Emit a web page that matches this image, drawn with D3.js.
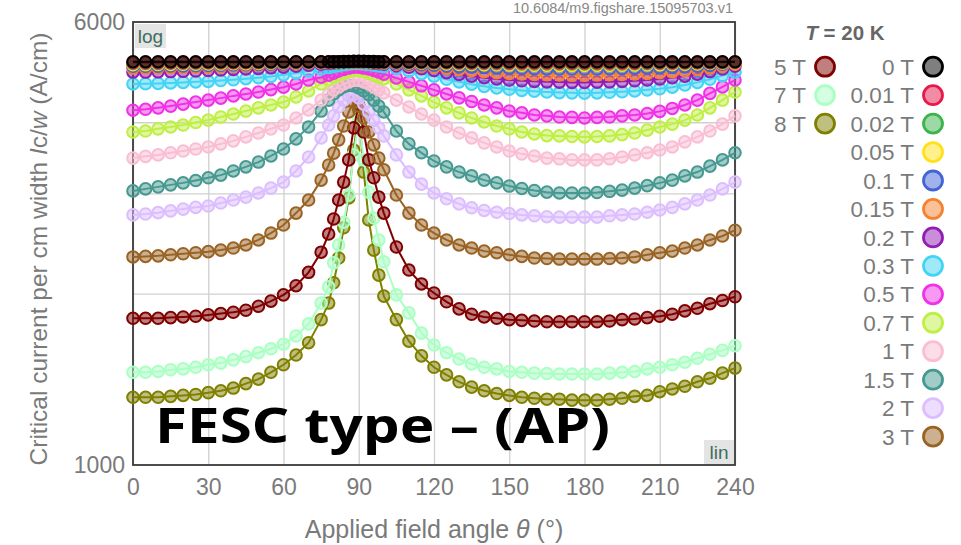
<!DOCTYPE html>
<html>
<head>
<meta charset="utf-8">
<script src="https://cdn.jsdelivr.net/npm/d3@7"></script>
<style>
  html, body { margin: 0; padding: 0; background: #fff; }
  svg { display: block; }
</style>
</head>
<body>
<svg id="chart" width="961" height="545"></svg>
<script>
// Field angle (degrees) at which Ic was measured
const angles = [0,5,10,15,20,25,30,35,40,45,50,55,60,65,70,75,
  78,80,82,84,86,88,90,92,94,96,98,100,
  105,110,115,120,125,130,135,140,145,150,155,160,165,170,175,180,185,190,195,200,205,210,215,220,225,230,235,240];

// Critical current per cm width (A/cm), one array per applied field
const ic_0T = [5110,5110,5110,5110,5110,5110,5110,5110,5110,5110,5110,5110,5110,5110,5110,5110,
  5110,5110,5110,5112,5115,5120,5120,5120,5115,5112,5110,5110,
  5110,5110,5110,5110,5110,5110,5110,5110,5110,5110,5110,5110,5110,5110,5110,5110,5110,5110,5110,5110,5110,5110,5110,5110,5110,5110,5110,5110];
const ic_001T = [5090,5090,5090,5091,5092,5093,5094,5095,5096,5097,5098,5099,5100,5101,5102,5104,
  5105,5106,5108,5110,5112,5112,5112,5110,5108,5106,5105,5104,
  5102,5100,5098,5096,5094,5092,5090,5088,5087,5086,5085,5084,5083,5083,5083,5083,5083,5084,5085,5086,5087,5088,5090,5092,5094,5096,5098,5100];
const ic_002T = [5075,5075,5076,5078,5080,5081,5082,5084,5085,5087,5089,5090,5092,5094,5096,5098,
  5100,5102,5104,5106,5108,5108,5108,5106,5104,5102,5100,5098,
  5096,5092,5088,5085,5082,5078,5075,5072,5070,5068,5066,5065,5064,5064,5064,5064,5064,5065,5066,5068,5070,5072,5075,5078,5082,5086,5090,5094];
const ic_005T = [5050,5050,5052,5055,5058,5060,5062,5065,5068,5070,5075,5078,5082,5086,5090,5095,
  5098,5100,5102,5104,5105,5105,5105,5104,5102,5100,5098,5095,
  5090,5085,5078,5072,5065,5060,5055,5050,5046,5043,5040,5038,5036,5035,5035,5035,5036,5038,5040,5043,5046,5050,5055,5060,5066,5072,5078,5085];
const ic_01T = [5020,5020,5020,5025,5025,5030,5035,5040,5045,5050,5055,5060,5065,5075,5080,5090,
  5095,5100,5100,5105,5105,5105,5105,5100,5100,5095,5090,5085,
  5075,5060,5050,5040,5025,5010,5000,4990,4980,4975,4970,4965,4960,4960,4960,4960,4960,4965,4970,4975,4980,4985,4995,5005,5020,5040,5060,5085];
const ic_015T = [4980,4980,4985,4990,4995,5000,5005,5010,5020,5025,5035,5045,5055,5065,5075,5085,
  5090,5095,5100,5100,5105,5105,5105,5100,5095,5090,5085,5075,
  5060,5040,5020,5000,4975,4950,4930,4910,4890,4875,4865,4855,4850,4845,4840,4840,4845,4850,4855,4865,4875,4890,4905,4925,4950,4985,5020,5060];
const ic_02T = [4900,4900,4905,4910,4915,4920,4930,4940,4950,4960,4970,4985,5000,5020,5040,5060,
  5075,5085,5090,5095,5100,5100,5100,5095,5090,5080,5070,5060,
  5030,5000,4965,4930,4890,4855,4820,4790,4765,4745,4730,4720,4710,4705,4700,4700,4705,4710,4720,4730,4745,4765,4790,4820,4860,4910,4960,5020];
const ic_03T = [4670,4675,4680,4690,4700,4710,4720,4735,4750,4770,4790,4815,4845,4880,4920,4960,
  4990,5010,5030,5050,5065,5075,5075,5065,5055,5040,5025,5010,
  4970,4920,4870,4820,4760,4710,4665,4625,4595,4570,4550,4535,4520,4510,4505,4500,4505,4515,4525,4540,4560,4580,4610,4650,4700,4760,4830,4900];
const ic_05T = [4200,4215,4240,4270,4305,4340,4375,4410,4450,4485,4520,4565,4610,4670,4745,4800,
  4840,4880,4920,4950,4980,5000,5000,4980,4960,4930,4900,4860,
  4785,4710,4635,4560,4485,4415,4350,4290,4240,4185,4155,4120,4105,4085,4080,4070,4080,4085,4105,4120,4145,4180,4230,4290,4375,4495,4615,4745];
const ic_07T = [3845,3860,3895,3925,3955,3995,4035,4085,4135,4185,4240,4290,4340,4430,4540,4670,
  4745,4800,4840,4880,4910,4930,4930,4910,4880,4840,4800,4765,
  4670,4560,4450,4340,4240,4155,4070,4005,3940,3895,3845,3815,3790,3785,3775,3770,3775,3785,3805,3830,3875,3925,3970,4035,4120,4240,4375,4520];
const ic_1T = [3460,3485,3505,3535,3560,3590,3620,3665,3710,3770,3830,3895,3955,4070,4205,4375,
  4485,4560,4615,4670,4710,4735,4735,4710,4670,4615,4560,4505,
  4375,4255,4135,4035,3925,3830,3755,3680,3620,3560,3520,3490,3460,3450,3435,3435,3435,3450,3475,3505,3535,3575,3620,3695,3770,3860,3970,4105];
const ic_15T = [3030,3055,3080,3105,3130,3160,3195,3230,3285,3340,3405,3490,3590,3740,3925,4185,
  4375,4485,4560,4615,4640,4635,4595,4540,4470,4375,4270,4170,
  3860,3665,3535,3420,3340,3270,3220,3165,3130,3090,3060,3035,3015,3005,3005,3005,3010,3025,3040,3065,3095,3130,3165,3220,3270,3350,3435,3535];
const ic_2T = [2750,2760,2775,2795,2815,2835,2850,2885,2920,2955,3005,3065,3140,3285,3475,3755,
  3955,4105,4255,4375,4450,4470,4415,4305,4170,4035,3910,3785,
  3505,3270,3115,3005,2935,2875,2830,2800,2780,2765,2750,2740,2730,2725,2725,2725,2725,2740,2750,2760,2780,2805,2835,2875,2920,2980,3055,3140];
const ic_3T = [2320,2325,2330,2340,2350,2360,2370,2385,2405,2435,2485,2555,2640,2770,2920,3165,
  3365,3530,3725,3940,4170,4340,4270,4070,3845,3650,3460,3300,
  2980,2770,2640,2555,2485,2435,2405,2375,2360,2340,2325,2310,2305,2300,2300,2300,2300,2305,2310,2320,2340,2360,2375,2405,2435,2485,2525,2585];
const ic_5T = [1810,1810,1810,1815,1820,1825,1835,1845,1855,1870,1900,1940,1990,2065,2180,2365,
  2545,2705,2920,3140,3435,3910,4290,3845,3435,3195,2955,2770,
  2415,2200,2080,2005,1935,1880,1840,1820,1810,1800,1795,1790,1785,1785,1785,1785,1785,1790,1800,1805,1815,1825,1840,1865,1885,1920,1945,1975];
const ic_7T = [1455,1455,1460,1470,1475,1485,1500,1510,1530,1550,1575,1600,1630,1685,1770,1925,
  2055,2265,2435,2670,2980,3505,4035,3435,3015,2715,2485,2275,
  1990,1850,1705,1625,1575,1535,1505,1485,1475,1460,1455,1450,1448,1445,1445,1445,1445,1450,1455,1460,1475,1485,1500,1515,1540,1565,1590,1620];
const ic_8T = [1315,1315,1315,1320,1325,1330,1340,1350,1365,1390,1415,1455,1500,1560,1640,1800,
  1925,2090,2310,2610,2945,3575,4205,3270,2695,2385,2155,1980,
  1800,1650,1555,1485,1440,1400,1370,1350,1335,1325,1315,1310,1305,1305,1300,1300,1300,1305,1310,1320,1325,1345,1360,1375,1400,1420,1450,1480];

const fieldLabels = ["0 T","0.01 T","0.02 T","0.05 T","0.1 T","0.15 T","0.2 T","0.3 T","0.5 T","0.7 T","1 T","1.5 T","2 T","3 T","5 T","7 T","8 T"];
const fieldColors = ["#000000","#e6194b","#3cb44b","#ffe119","#4363d8","#f58231","#911eb4","#42d4f4","#f032e6","#bfef45","#fabed4","#469990","#dcbeff","#9a6324","#800000","#aaffc3","#808000"];
const fieldValues = [ic_0T,ic_001T,ic_002T,ic_005T,ic_01T,ic_015T,ic_02T,ic_03T,ic_05T,ic_07T,ic_1T,ic_15T,ic_2T,ic_3T,ic_5T,ic_7T,ic_8T];

const xTicks = [0,30,60,90,120,150,180,210,240];
const yTicks = [1000,6000];
const yGrid = [2000,3000,4000,5000];

const series = fieldLabels.map((label, i) => ({
  label, color: fieldColors[i],
  points: angles.map((a, j) => ({ angle: a, ic: fieldValues[i][j] }))
}));

const svg = d3.select("#chart");
const plot = { left: 133, right: 735, top: 22, bottom: 465 };
const x = d3.scaleLinear().domain([0, 240]).range([plot.left, plot.right]);
const y = d3.scaleLog().domain([1000, 6000]).range([plot.bottom, plot.top]);

const labelFont = "'Liberation Sans', Arial, sans-serif";
const grey = "#7a7a7a";

// grid
svg.append("g")
  .attr("transform", `translate(0,${plot.bottom})`)
  .call(d3.axisBottom(x).tickValues(xTicks).tickSize(-(plot.bottom - plot.top)).tickFormat(""))
  .call(g => g.select(".domain").remove())
  .call(g => g.selectAll("line").attr("stroke", "#d0d0d0").attr("stroke-width", 1.3));
svg.append("g")
  .attr("transform", `translate(${plot.left},0)`)
  .call(d3.axisLeft(y).tickValues(yGrid).tickSize(-(plot.right - plot.left)).tickFormat(""))
  .call(g => g.select(".domain").remove())
  .call(g => g.selectAll("line").attr("stroke", "#d0d0d0").attr("stroke-width", 1.3));

// frame
svg.append("rect")
  .attr("x", plot.left).attr("y", plot.top)
  .attr("width", plot.right - plot.left).attr("height", plot.bottom - plot.top)
  .attr("fill", "none").attr("stroke", "#3a3a3a").attr("stroke-width", 1.8);

// axes labels
const xAxis = svg.append("g")
  .attr("transform", `translate(0,${plot.bottom})`)
  .call(d3.axisBottom(x).tickValues(xTicks).tickSize(0).tickPadding(14));
xAxis.select(".domain").remove();
xAxis.selectAll("text").attr("font-family", labelFont).attr("font-size", 23).attr("fill", grey);

const yAxis = svg.append("g")
  .attr("transform", `translate(${plot.left},0)`)
  .call(d3.axisLeft(y).tickValues(yTicks).tickSize(0).tickPadding(8).tickFormat(d3.format("d")));
yAxis.select(".domain").remove();
yAxis.selectAll("text").attr("font-family", labelFont).attr("font-size", 23).attr("fill", grey);

// axis titles
const xTitle = svg.append("text")
  .attr("x", 434).attr("y", 538)
  .attr("text-anchor", "middle").attr("font-family", labelFont).attr("font-size", 25).attr("fill", grey);
xTitle.append("tspan").text("Applied field angle ");
xTitle.append("tspan").attr("font-style", "italic").text("θ");
xTitle.append("tspan").text(" (°)");

const yTitle = svg.append("text")
  .attr("transform", "translate(47,249) rotate(-90)")
  .attr("text-anchor", "middle").attr("font-family", labelFont).attr("font-size", 24.5).attr("fill", grey);
yTitle.append("tspan").text("Critical current per cm width ");
yTitle.append("tspan").attr("font-style", "italic").text("I");
yTitle.append("tspan").text("c/");
yTitle.append("tspan").attr("font-style", "italic").text("w");
yTitle.append("tspan").text(" (A/cm)");

// scale badges
function badge(text, bx, by, w, h) {
  svg.append("rect").attr("x", bx).attr("y", by).attr("width", w).attr("height", h).attr("fill", "#e4e4e4");
  svg.append("text").attr("x", bx + w / 2).attr("y", by + h / 2).attr("dy", "0.35em")
    .attr("text-anchor", "middle").attr("font-family", labelFont).attr("font-size", 19)
    .attr("fill", "#3d6e5e").text(text);
}
badge("log", 135, 24, 31, 24);
badge("lin", 704, 440, 30, 24);

// series, last field drawn first so the zero-field curve sits on top
const line = d3.line().x(d => x(d.angle)).y(d => y(d.ic));
const seriesG = svg.append("g");
series.slice().reverse().forEach(s => {
  const g = seriesG.append("g");
  g.append("path").datum(s.points).attr("d", line)
    .attr("fill", "none").attr("stroke", s.color).attr("stroke-width", 2);
  g.selectAll("circle").data(s.points).join("circle")
    .attr("cx", d => x(d.angle)).attr("cy", d => y(d.ic)).attr("r", 5.8)
    .attr("fill", s.color).attr("fill-opacity", 0.5)
    .attr("stroke", s.color).attr("stroke-width", 2);
});

// legend
const legend = svg.append("g");
const lt = legend.append("text").attr("x", 845).attr("y", 33).attr("dy", "0.35em")
  .attr("text-anchor", "middle").attr("font-family", labelFont).attr("font-size", 20.5)
  .attr("font-weight", "bold").attr("fill", "#666");
lt.append("tspan").attr("font-style", "italic").text("T");
lt.append("tspan").text(" = 20 K");

series.forEach((s, i) => {
  const left = i >= 14;
  const row = left ? i - 14 : i;
  const cx = left ? 825 : 933;
  const cy = 66.7 + row * 28.45;
  legend.append("circle").attr("cx", cx).attr("cy", cy).attr("r", 9.5)
    .attr("fill", s.color).attr("fill-opacity", 0.5)
    .attr("stroke", s.color).attr("stroke-width", 2.8);
  legend.append("text").attr("x", cx - 19).attr("y", cy).attr("dy", "0.36em")
    .attr("text-anchor", "end").attr("font-family", labelFont).attr("font-size", 22.5)
    .attr("fill", grey).text(s.label);
});

// source reference
svg.append("text").attr("x", 733).attr("y", 8).attr("dy", "0.35em")
  .attr("text-anchor", "end").attr("font-family", labelFont).attr("font-size", 14.5)
  .attr("fill", "#888").text("10.6084/m9.figshare.15095703.v1");

// sample label
svg.append("text").attr("x", 155).attr("y", 443)
  .attr("font-family", "'Noto Sans', 'Open Sans', sans-serif").attr("font-weight", "bold")
  .attr("font-size", 49).attr("fill", "#000")
  .attr("textLength", 455).attr("lengthAdjust", "spacingAndGlyphs")
  .text("FESC type – (AP)");
</script>
</body>
</html>
